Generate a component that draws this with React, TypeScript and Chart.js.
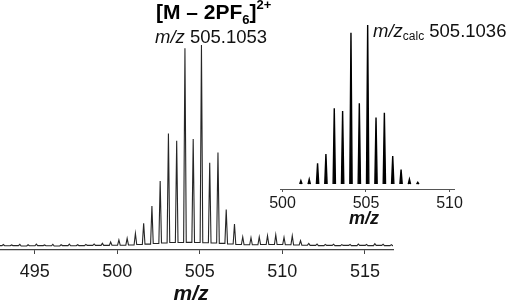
import React, { useEffect, useRef } from "react";
import { Chart, registerables } from "chart.js";
Chart.register(...registerables);

const FONT = '"Liberation Sans", Arial, Helvetica, sans-serif';

// ---------- main (measured) spectrum ----------
const mainPeakMz = [
  493.1, 493.6, 494.1, 494.6, 495.1, 495.6, 496.1, 496.6, 497.1, 497.6, 498.1, 498.6,
  499.1, 499.6, 500.1, 500.6, 501.1, 501.6, 502.1, 502.6, 503.1, 503.6, 504.1, 504.6,
  505.1, 505.6, 506.1, 506.6, 507.1, 507.6, 508.1, 508.6, 509.1, 509.6, 510.1, 510.6,
  511.1, 511.6, 512.1, 512.6, 513.1, 513.6, 514.1, 514.6, 515.1, 515.6, 516.1, 516.6,
];
const mainPeakInt = [
  0.7, 0.5, 0.8, 0.6, 0.9, 0.5, 0.8, 0.6, 0.9, 0.6, 0.8, 1.0,
  1.3, 2.0, 3.0, 3.8, 6.2, 11.3, 19.9, 32.3, 56.0, 52.4, 98.4, 53.2,
  100, 41.4, 46.5, 18.2, 10.9, 4.5, 4.1, 4.5, 5.1, 5.5, 4.3, 5.1,
  2.6, 1.3, 1.0, 0.8, 0.9, 0.7, 0.8, 1.0, 0.8, 1.1, 0.9, 0.7,
];
const mainValley = [
  0.2, 0.1, 0.2, 0.0, 0.1, 0.2, 0.1, 0.0, 0.2, 0.1, 0.2, 0.3,
  0.3, 0.3, 0.4, 0.4, 0.5, 0.7, 0.9, 1.2, 1.5, 1.7, 1.7, 1.8,
  1.7, 1.6, 1.5, 1.3, 1.0, 0.7, 0.6, 0.6, 0.7, 0.7, 0.7, 0.6,
  0.5, 0.4, 0.3, 0.2, 0.3, 0.2, 0.3, 0.2, 0.3, 0.2, 0.3, 0.2,
];
const mainTicks = [495, 500, 505, 510, 515];
const mainXMin = 492.9;
const mainXMax = 516.7;

// ---------- inset (calculated) pattern ----------
const insetPeakMz = [
  501.1, 501.6, 502.1, 502.6, 503.1, 503.6, 504.1, 504.6, 505.1, 505.6, 506.1, 506.6, 507.1, 507.6, 508.1,
];
const insetPeakInt = [
  2.1, 3.0, 13.0, 18.9, 47.6, 45.9, 95.2, 50.8, 100, 41.9, 44.8, 17.6, 9.2, 3.0, 1.1,
];
const insetTicks = [500, 505, 510];
const insetXMin = 499.85;
const insetXMax = 510.27;

// ---------- texts ----------
const titleMain = "[M – 2PF";
const titleSub = "6";
const titleClose = "]";
const titleSup = "2+";
const mzLabel = "m/z";
const foundValue = " 505.1053";
const calcSub = "calc";
const calcValue = " 505.1036";
const axisTitle = "m/z";

type Run = { text: string; font: string; dy: number };
function drawRuns(ctx: CanvasRenderingContext2D, x: number, y: number, runs: Run[]) {
  let cx = x;
  for (const r of runs) {
    ctx.font = r.font;
    ctx.fillText(r.text, cx, y + r.dy);
    cx += ctx.measureText(r.text).width;
  }
}

const mainTextPlugin = {
  id: "mainText",
  afterDraw(chart: any) {
    const ctx: CanvasRenderingContext2D = chart.ctx;
    ctx.save();
    ctx.textBaseline = "alphabetic";
    ctx.textAlign = "left";
    ctx.fillStyle = "#000";
    drawRuns(ctx, 156, 19, [
      { text: titleMain, font: `bold 21px ${FONT}`, dy: 0 },
      { text: titleSub, font: `bold 13px ${FONT}`, dy: 4.5 },
      { text: titleClose, font: `bold 21px ${FONT}`, dy: 0 },
      { text: titleSup, font: `bold 13px ${FONT}`, dy: -10 },
    ]);
    ctx.fillStyle = "#111";
    drawRuns(ctx, 155, 43, [
      { text: mzLabel, font: `italic 18.5px ${FONT}`, dy: 0 },
      { text: foundValue, font: `18.5px ${FONT}`, dy: 0 },
    ]);
    ctx.font = `bold italic 21px ${FONT}`;
    ctx.textAlign = "center";
    ctx.fillText(axisTitle, 191, 300);
    ctx.restore();
  },
};

const insetTextPlugin = {
  id: "insetText",
  afterDraw(chart: any) {
    const ctx: CanvasRenderingContext2D = chart.ctx;
    ctx.save();
    ctx.textBaseline = "alphabetic";
    ctx.textAlign = "left";
    ctx.fillStyle = "#111";
    drawRuns(ctx, 123, 37, [
      { text: mzLabel, font: `italic 18.5px ${FONT}`, dy: 0 },
      { text: calcSub, font: `12px ${FONT}`, dy: 3 },
      { text: calcValue, font: `18.5px ${FONT}`, dy: 0 },
    ]);
    ctx.font = `bold italic 18px ${FONT}`;
    ctx.textAlign = "center";
    ctx.fillText(axisTitle, 114, 224);
    ctx.restore();
  },
};

function buildMainData() {
  const pts: { x: number; y: number }[] = [{ x: mainXMin, y: mainValley[0] }];
  mainPeakMz.forEach((m, i) => {
    const vNext = i + 1 < mainValley.length ? mainValley[i + 1] : mainValley[i];
    pts.push({ x: m - 0.08, y: mainValley[i] });
    pts.push({ x: m, y: mainPeakInt[i] });
    pts.push({ x: m + 0.08, y: vNext });
  });
  pts.push({ x: mainXMax, y: mainValley[mainValley.length - 1] });
  return pts;
}

function buildInsetData() {
  const pts: { x: number; y: number | null }[] = [];
  insetPeakMz.forEach((m, i) => {
    pts.push({ x: m - 0.07, y: 0 });
    pts.push({ x: m, y: insetPeakInt[i] });
    pts.push({ x: m + 0.07, y: 0 });
    pts.push({ x: m + 0.1, y: null });
  });
  return pts;
}

export default function App() {
  const mainRef = useRef<HTMLCanvasElement>(null);
  const insetRef = useRef<HTMLCanvasElement>(null);

  useEffect(() => {
    const axisColor = "#444";
    const c1 = new Chart(mainRef.current as HTMLCanvasElement, {
      type: "line",
      data: {
        datasets: [
          {
            data: buildMainData() as any,
            borderColor: "#262626",
            borderWidth: 1.1,
            pointRadius: 0,
            tension: 0,
            fill: false,
            clip: false as any,
          },
        ],
      },
      options: {
        animation: false,
        responsive: false,
        events: [],
        layout: { padding: { left: 0, right: 119, top: 45, bottom: 0 } },
        plugins: { legend: { display: false }, tooltip: { enabled: false }, title: { display: false } },
        scales: {
          x: {
            type: "linear",
            min: mainXMin,
            max: mainXMax,
            afterBuildTicks: (s: any) => {
              s.ticks = mainTicks.map((v) => ({ value: v }));
            },
            afterFit: (s: any) => {
              s.height = 54;
            },
            ticks: {
              font: { family: FONT, size: 18 },
              color: "#1a1a1a",
              padding: 7,
              maxRotation: 0,
              callback: (v: any) => String(v),
            },
            grid: { display: true, drawOnChartArea: false, drawTicks: true, tickLength: 4, color: axisColor, lineWidth: 1 },
            border: { display: true, color: axisColor, width: 1.2 },
          },
          y: { display: false, min: -2, max: 100 },
        },
      },
      plugins: [mainTextPlugin],
    });

    const c2 = new Chart(insetRef.current as HTMLCanvasElement, {
      type: "line",
      data: {
        datasets: [
          {
            data: buildInsetData() as any,
            borderColor: "#000",
            backgroundColor: "#000",
            borderWidth: 1.4,
            pointRadius: 0,
            tension: 0,
            fill: "origin",
            spanGaps: false,
            clip: false as any,
          },
        ],
      },
      options: {
        animation: false,
        responsive: false,
        events: [],
        layout: { padding: { left: 30, right: 58, top: 25, bottom: 0 } },
        plugins: { legend: { display: false }, tooltip: { enabled: false }, title: { display: false } },
        scales: {
          x: {
            type: "linear",
            min: insetXMin,
            max: insetXMax,
            afterBuildTicks: (s: any) => {
              s.ticks = insetTicks.map((v) => ({ value: v }));
            },
            afterFit: (s: any) => {
              s.height = 41;
            },
            ticks: {
              font: { family: FONT, size: 16 },
              color: "#1a1a1a",
              padding: 2,
              maxRotation: 0,
              callback: (v: any) => String(v),
            },
            grid: { display: true, drawOnChartArea: false, drawTicks: true, tickLength: 3, color: "#555", lineWidth: 1 },
            border: { display: true, color: "#555", width: 1 },
          },
          y: { display: false, min: -3.1, max: 100 },
        },
      },
      plugins: [insetTextPlugin],
    });

    return () => {
      c1.destroy();
      c2.destroy();
    };
  }, []);

  return (
    <div style={{ position: "absolute", left: 0, top: 0, width: 512, height: 304, background: "#fff" }}>
      <canvas ref={mainRef} width={512} height={304} style={{ position: "absolute", left: 0, top: 0 }} />
      <canvas ref={insetRef} width={262} height={230} style={{ position: "absolute", left: 250, top: 0 }} />
    </div>
  );
}
